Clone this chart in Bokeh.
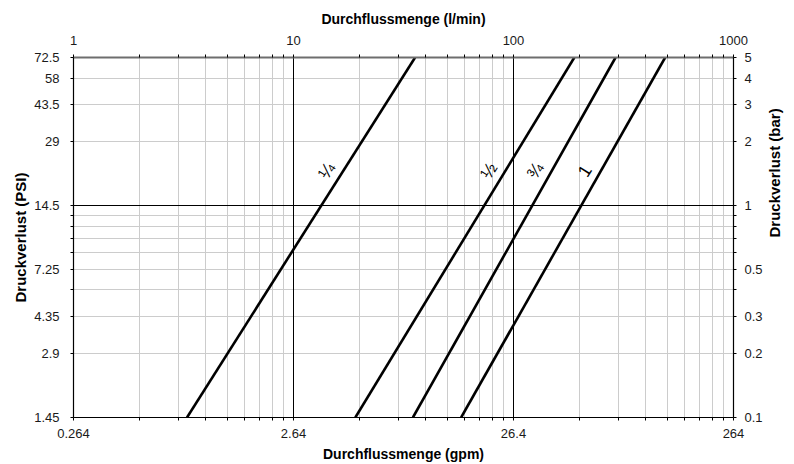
import math
from bokeh.plotting import figure
from bokeh.models import LogAxis, FixedTicker, Grid, Range1d, ColumnDataSource
from bokeh.core.properties import value
from bokeh.embed import file_html
from bokeh.resources import INLINE

# ---------------- data ----------------
size_labels = ["¼", "½", "¾", "1"]
pressure_ends_bar = [0.1, 5.0]
flow_lpm_at_low = [3.28, 19.1, 34.9, 57.8]      # flow (l/min) at 0.1 bar
flow_lpm_at_high = [35.7, 189.0, 291.0, 489.0]  # flow (l/min) at 5 bar

flow_ticks_lpm = [1, 10, 100, 1000]
flow_labels_lpm = ["1", "10", "100", "1000"]
flow_labels_gpm = ["0.264", "2.64", "26.4", "264"]
flow_minor_lpm = [2, 3, 4, 5, 6, 7, 8, 9,
                  20, 30, 40, 50, 60, 70, 80, 90,
                  200, 300, 400, 500, 600, 700, 800, 900]

pressure_ticks_bar = [0.1, 0.2, 0.3, 0.5, 1, 2, 3, 4, 5]
pressure_labels_bar = ["0.1", "0.2", "0.3", "0.5", "1", "2", "3", "4", "5"]
pressure_labels_psi = ["1.45", "2.9", "4.35", "7.25", "14.5", "29", "43.5", "58", "72.5"]
pressure_minor_bar = [0.4, 0.6, 0.7, 0.8, 0.9]

grid_light_x = flow_minor_lpm
grid_dark_x = [10, 100]
grid_light_y = [0.2, 0.3, 0.4, 0.5, 0.6, 0.7, 0.8, 0.9, 2, 3, 4]
grid_dark_y = [1]

label_level_bar = 1.46

# ---------------- figure ----------------
FONT = "Liberation Sans"
X_MIN, X_MAX = 1, 1000
Y_MIN, Y_MAX = 0.1, 5

p = figure(width=794, height=464,
           x_axis_type="log", y_axis_type="log",
           x_range=Range1d(X_MIN, X_MAX), y_range=Range1d(Y_MIN, Y_MAX),
           output_backend="svg", toolbar_location=None,
           min_border_left=73, min_border_right=61,
           min_border_top=57, min_border_bottom=47)
p.outline_line_color = None
p.background_fill_color = "white"
p.border_fill_color = "white"
p.xgrid.visible = False
p.ygrid.visible = False


def style_axis(ax, ticks, minor, labels, title, color="black", title_size="14px"):
    ax.ticker = FixedTicker(ticks=ticks, minor_ticks=minor)
    ax.major_label_overrides = {t: l for t, l in zip(ticks, labels)}
    ax.axis_label = title
    ax.axis_label_text_font = FONT
    ax.axis_label_text_font_style = "bold"
    ax.axis_label_text_font_size = title_size
    ax.axis_label_text_color = "black"
    ax.axis_label_text_line_height = 1.0
    ax.major_label_text_font = FONT
    ax.major_label_text_font_size = "13px"
    ax.major_label_text_color = "#1a1a1a"
    ax.axis_line_color = color
    ax.axis_line_width = 1.2
    ax.major_tick_line_color = "black"
    ax.minor_tick_line_color = "black"
    ax.major_tick_in = 0
    ax.major_tick_out = 3
    ax.minor_tick_in = 0
    ax.minor_tick_out = 3


# bottom (gpm)
xb = p.xaxis[0]
style_axis(xb, flow_ticks_lpm, flow_minor_lpm, flow_labels_gpm, "Durchflussmenge (gpm)")
xb.major_label_standoff = 8
xb.axis_label_standoff = 5

# left (PSI)
yl = p.yaxis[0]
style_axis(yl, pressure_ticks_bar, pressure_minor_bar, pressure_labels_psi,
           "Druckverlust (PSI)", title_size="15px")
yl.major_label_standoff = 11
yl.axis_label_standoff = 2

# top (l/min)
xt = LogAxis()
style_axis(xt, flow_ticks_lpm, flow_minor_lpm, flow_labels_lpm, "Durchflussmenge (l/min)", color="#6e6e6e")
xt.axis_line_width = 1.8
xt.major_label_standoff = 10
xt.axis_label_standoff = 6
p.add_layout(xt, "above")

# right (bar)
yr = LogAxis()
style_axis(yr, pressure_ticks_bar, pressure_minor_bar, pressure_labels_bar,
           "Druckverlust (bar)", title_size="15px")
yr.major_label_standoff = 8
yr.axis_label_standoff = 9
yr.axis_label_orientation = math.pi / 2
p.add_layout(yr, "right")

# grids
p.add_layout(Grid(dimension=0, ticker=FixedTicker(ticks=grid_light_x),
                  grid_line_color="#cccccc", grid_line_width=1))
p.add_layout(Grid(dimension=1, ticker=FixedTicker(ticks=grid_light_y),
                  grid_line_color="#cccccc", grid_line_width=1))
p.add_layout(Grid(dimension=0, ticker=FixedTicker(ticks=grid_dark_x),
                  grid_line_color="black", grid_line_width=1))
p.add_layout(Grid(dimension=1, ticker=FixedTicker(ticks=grid_dark_y),
                  grid_line_color="black", grid_line_width=1))

# curves
for lo, hi in zip(flow_lpm_at_low, flow_lpm_at_high):
    p.line(x=[lo, hi], y=pressure_ends_bar, line_color="black", line_width=2.6)

# labels along the curves
lx, ly = [], []
t = (math.log10(label_level_bar) - math.log10(pressure_ends_bar[0])) / (
    math.log10(pressure_ends_bar[1]) - math.log10(pressure_ends_bar[0]))
for lo, hi in zip(flow_lpm_at_low, flow_lpm_at_high):
    lx.append(10 ** (math.log10(lo) + t * (math.log10(hi) - math.log10(lo))))
    ly.append(label_level_bar)
src = ColumnDataSource(dict(x=lx, y=ly, text=size_labels))
p.text(x="x", y="y", text="text", source=src, angle=math.radians(57.7),
       x_offset=-16.5, text_align="center", text_baseline="middle",
       text_font=value(FONT), text_font_size="18px", text_color="black")

open("out.html", "w").write(file_html(p, INLINE))
